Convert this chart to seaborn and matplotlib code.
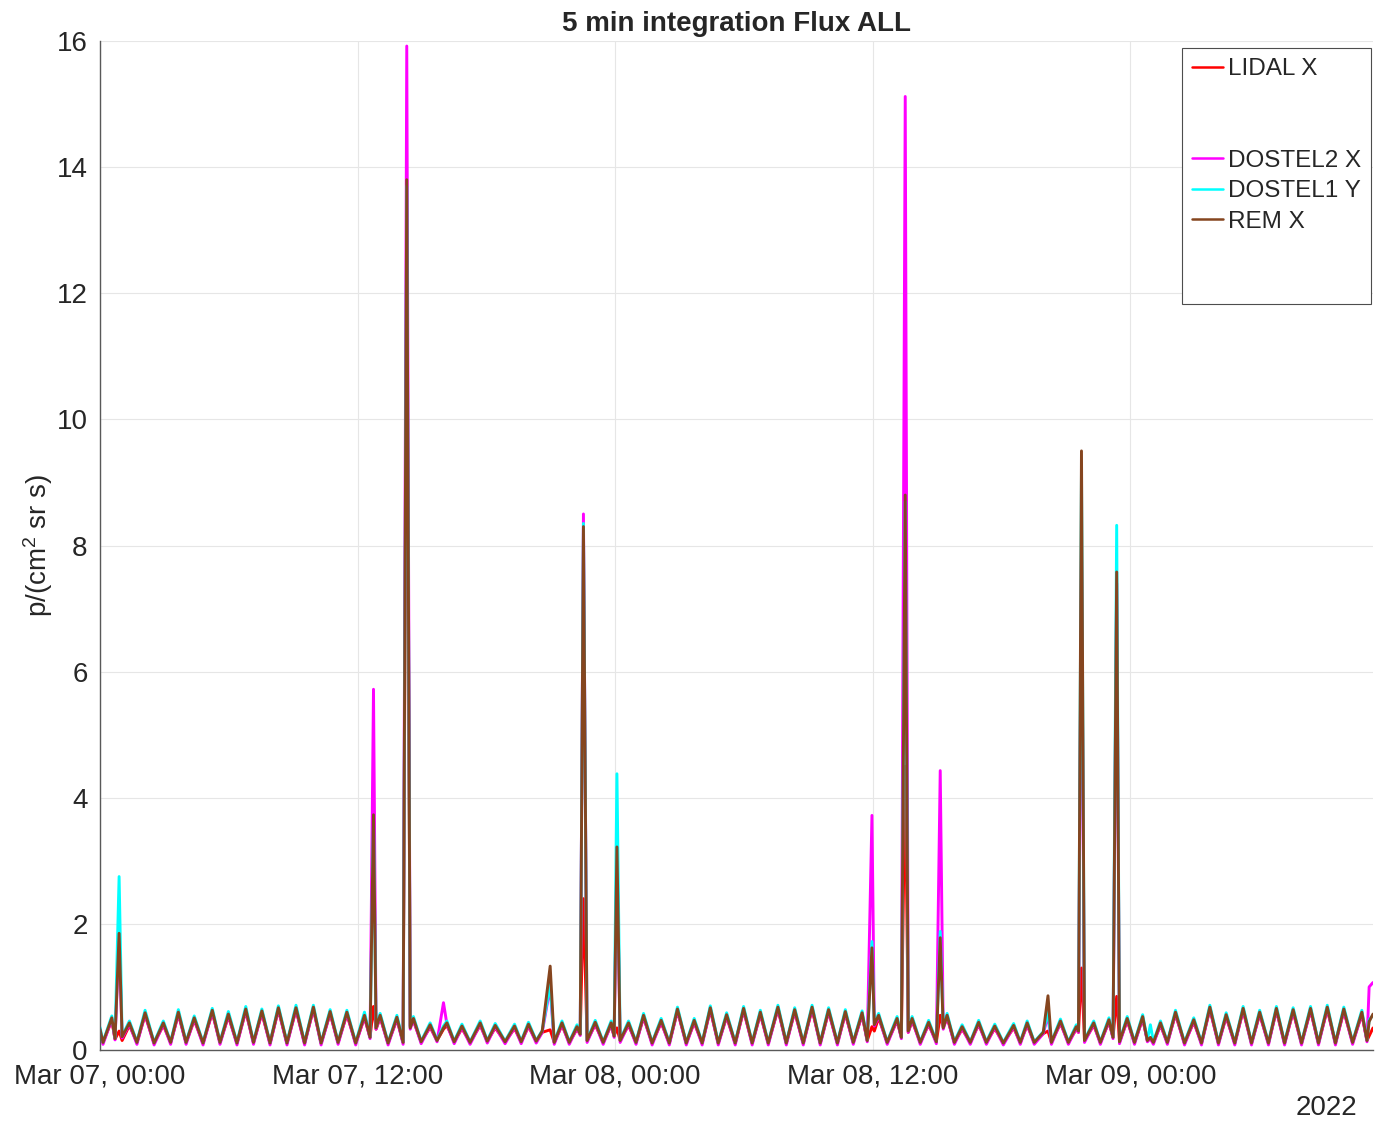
"""
5 min integration flux, four instruments, 7-9 March 2022.
"""
import matplotlib
matplotlib.use("Agg")
import matplotlib.pyplot as plt
import matplotlib.dates as mdates
from matplotlib.lines import Line2D
import pandas as pd
import seaborn as sns

START = "2022-03-07 00:00"
END_HOURS = 59.30

# hours since START
t_hours = [
    0.00, 0.14, 0.55, 0.70, 0.89, 1.03, 1.37, 1.72, 2.10, 2.52,
    2.95, 3.29, 3.65, 4.01, 4.39, 4.80, 5.23, 5.59, 5.98, 6.38,
    6.79, 7.15, 7.54, 7.92, 8.31, 8.71, 9.13, 9.53, 9.94, 10.30,
    10.72, 11.09, 11.50, 11.91, 12.32, 12.58, 12.74, 12.86, 13.05, 13.42,
    13.83, 14.12, 14.29, 14.45, 14.60, 14.96, 15.38, 15.70, 16.00, 16.16,
    16.50, 16.86, 17.24, 17.71, 18.04, 18.41, 18.87, 19.31, 19.62, 19.96,
    20.32, 20.60, 20.97, 21.16, 21.52, 21.86, 22.22, 22.37, 22.52, 22.69,
    23.07, 23.44, 23.81, 23.95, 24.08, 24.23, 24.62, 24.97, 25.32, 25.72,
    26.14, 26.52, 26.90, 27.31, 27.68, 28.05, 28.43, 28.80, 29.19, 29.59,
    29.98, 30.38, 30.76, 31.13, 31.58, 31.97, 32.36, 32.76, 33.17, 33.55,
    33.94, 34.35, 34.72, 35.09, 35.50, 35.74, 35.96, 36.07, 36.27, 36.67,
    37.13, 37.33, 37.51, 37.65, 37.83, 38.21, 38.60, 38.96, 39.14, 39.28,
    39.46, 39.80, 40.16, 40.54, 40.93, 41.29, 41.68, 42.08, 42.56, 42.87,
    43.19, 43.52, 43.94, 44.16, 44.32, 44.74, 45.11, 45.48, 45.58, 45.72,
    45.86, 46.29, 46.60, 47.00, 47.19, 47.36, 47.49, 47.85, 48.19, 48.57,
    48.79, 48.93, 49.07, 49.40, 49.72, 50.10, 50.52, 50.95, 51.31, 51.70,
    52.10, 52.46, 52.86, 53.25, 53.64, 54.02, 54.43, 54.80, 55.18, 55.58,
    55.97, 56.39, 56.76, 57.17, 57.55, 57.94, 58.35, 58.78, 59.02, 59.12,
    59.30,
]

lidal_x = [
    0.28, 0.12, 0.47, 0.17, 0.30, 0.15, 0.39, 0.12, 0.55, 0.11,
    0.39, 0.12, 0.56, 0.12, 0.47, 0.11, 0.59, 0.12, 0.53, 0.11,
    0.61, 0.12, 0.58, 0.11, 0.63, 0.11, 0.63, 0.11, 0.64, 0.11,
    0.57, 0.12, 0.56, 0.11, 0.51, 0.20, 0.69, 0.33, 0.51, 0.11,
    0.48, 0.12, 12.50, 0.38, 0.46, 0.13, 0.36, 0.15, 0.33, 0.39,
    0.13, 0.34, 0.12, 0.39, 0.14, 0.35, 0.13, 0.34, 0.13, 0.37,
    0.14, 0.28, 0.32, 0.12, 0.39, 0.12, 0.33, 0.25, 2.40, 0.15,
    0.40, 0.12, 0.39, 0.22, 0.35, 0.15, 0.39, 0.12, 0.51, 0.11,
    0.43, 0.11, 0.61, 0.11, 0.43, 0.11, 0.63, 0.11, 0.52, 0.11,
    0.62, 0.11, 0.56, 0.11, 0.64, 0.11, 0.60, 0.11, 0.64, 0.11,
    0.60, 0.11, 0.57, 0.12, 0.55, 0.15, 0.37, 0.30, 0.51, 0.12,
    0.46, 0.20, 4.50, 0.28, 0.46, 0.12, 0.40, 0.13, 0.55, 0.36,
    0.51, 0.12, 0.33, 0.12, 0.40, 0.12, 0.34, 0.11, 0.35, 0.12,
    0.39, 0.12, 0.26, 0.30, 0.12, 0.42, 0.12, 0.33, 0.28, 1.30,
    0.15, 0.39, 0.12, 0.44, 0.20, 0.85, 0.13, 0.46, 0.12, 0.49,
    0.15, 0.18, 0.12, 0.39, 0.12, 0.56, 0.11, 0.44, 0.11, 0.64,
    0.11, 0.52, 0.11, 0.62, 0.11, 0.56, 0.11, 0.62, 0.11, 0.60,
    0.11, 0.62, 0.11, 0.64, 0.11, 0.61, 0.12, 0.56, 0.15, 0.22,
    0.35,
]

dostel2_x = [
    0.30, 0.09, 0.49, 0.16, 1.80, 0.19, 0.41, 0.09, 0.57, 0.08,
    0.41, 0.09, 0.58, 0.09, 0.49, 0.08, 0.61, 0.09, 0.55, 0.08,
    0.63, 0.09, 0.60, 0.08, 0.65, 0.08, 0.65, 0.08, 0.66, 0.08,
    0.59, 0.09, 0.58, 0.08, 0.53, 0.18, 5.72, 0.33, 0.53, 0.08,
    0.50, 0.09, 15.92, 0.33, 0.48, 0.10, 0.38, 0.13, 0.75, 0.41,
    0.10, 0.36, 0.09, 0.41, 0.11, 0.37, 0.10, 0.36, 0.10, 0.39,
    0.11, 0.28, 1.00, 0.09, 0.41, 0.09, 0.35, 0.23, 8.50, 0.12,
    0.42, 0.09, 0.41, 0.20, 3.10, 0.12, 0.41, 0.09, 0.53, 0.08,
    0.45, 0.08, 0.63, 0.08, 0.45, 0.08, 0.65, 0.08, 0.54, 0.08,
    0.64, 0.08, 0.58, 0.08, 0.66, 0.08, 0.62, 0.08, 0.66, 0.08,
    0.62, 0.08, 0.59, 0.09, 0.57, 0.13, 3.72, 0.38, 0.53, 0.09,
    0.48, 0.18, 15.12, 0.28, 0.48, 0.09, 0.42, 0.10, 4.43, 0.33,
    0.53, 0.09, 0.35, 0.09, 0.42, 0.09, 0.36, 0.08, 0.37, 0.09,
    0.41, 0.09, 0.26, 0.55, 0.09, 0.44, 0.09, 0.35, 0.28, 8.00,
    0.12, 0.41, 0.09, 0.46, 0.18, 7.40, 0.10, 0.48, 0.09, 0.51,
    0.13, 0.18, 0.09, 0.41, 0.09, 0.58, 0.08, 0.46, 0.08, 0.66,
    0.08, 0.54, 0.08, 0.64, 0.08, 0.58, 0.08, 0.64, 0.08, 0.62,
    0.08, 0.64, 0.08, 0.66, 0.08, 0.63, 0.09, 0.58, 0.13, 1.00,
    1.07,
]

dostel1_y = [
    0.36, 0.13, 0.54, 0.19, 2.75, 0.22, 0.46, 0.13, 0.63, 0.12,
    0.46, 0.13, 0.64, 0.13, 0.54, 0.12, 0.66, 0.13, 0.61, 0.12,
    0.69, 0.13, 0.65, 0.12, 0.70, 0.12, 0.71, 0.12, 0.71, 0.12,
    0.64, 0.13, 0.63, 0.12, 0.60, 0.21, 3.70, 0.36, 0.58, 0.12,
    0.55, 0.13, 13.70, 0.37, 0.53, 0.14, 0.43, 0.16, 0.38, 0.46,
    0.14, 0.41, 0.13, 0.46, 0.15, 0.42, 0.14, 0.41, 0.14, 0.44,
    0.15, 0.31, 1.05, 0.13, 0.46, 0.13, 0.40, 0.26, 8.35, 0.16,
    0.47, 0.13, 0.46, 0.23, 4.38, 0.16, 0.46, 0.13, 0.58, 0.12,
    0.50, 0.12, 0.68, 0.12, 0.50, 0.12, 0.70, 0.12, 0.59, 0.12,
    0.69, 0.12, 0.63, 0.12, 0.71, 0.12, 0.67, 0.12, 0.71, 0.12,
    0.67, 0.12, 0.64, 0.13, 0.62, 0.16, 1.72, 0.42, 0.58, 0.13,
    0.53, 0.21, 8.70, 0.31, 0.53, 0.13, 0.47, 0.14, 1.88, 0.37,
    0.58, 0.13, 0.40, 0.13, 0.47, 0.13, 0.41, 0.12, 0.42, 0.13,
    0.46, 0.13, 0.29, 0.60, 0.13, 0.49, 0.13, 0.40, 0.31, 9.20,
    0.16, 0.46, 0.13, 0.51, 0.21, 8.32, 0.14, 0.53, 0.13, 0.56,
    0.16, 0.40, 0.13, 0.46, 0.13, 0.63, 0.12, 0.51, 0.12, 0.71,
    0.12, 0.59, 0.12, 0.69, 0.12, 0.63, 0.12, 0.69, 0.12, 0.67,
    0.12, 0.69, 0.12, 0.71, 0.12, 0.68, 0.13, 0.63, 0.16, 0.48,
    0.55,
]

rem_x = [
    0.33, 0.12, 0.51, 0.18, 1.85, 0.21, 0.43, 0.12, 0.59, 0.11,
    0.43, 0.12, 0.60, 0.12, 0.51, 0.11, 0.63, 0.12, 0.57, 0.11,
    0.65, 0.12, 0.62, 0.11, 0.67, 0.11, 0.67, 0.11, 0.68, 0.11,
    0.61, 0.12, 0.60, 0.11, 0.55, 0.20, 3.73, 0.35, 0.55, 0.11,
    0.52, 0.12, 13.80, 0.35, 0.50, 0.13, 0.40, 0.15, 0.35, 0.43,
    0.13, 0.38, 0.12, 0.43, 0.14, 0.39, 0.13, 0.38, 0.13, 0.41,
    0.14, 0.30, 1.33, 0.12, 0.43, 0.12, 0.37, 0.25, 8.30, 0.15,
    0.44, 0.12, 0.43, 0.22, 3.22, 0.15, 0.43, 0.12, 0.55, 0.11,
    0.47, 0.11, 0.65, 0.11, 0.47, 0.11, 0.67, 0.11, 0.56, 0.11,
    0.66, 0.11, 0.60, 0.11, 0.68, 0.11, 0.64, 0.11, 0.68, 0.11,
    0.64, 0.11, 0.61, 0.12, 0.59, 0.15, 1.62, 0.40, 0.55, 0.12,
    0.50, 0.20, 8.80, 0.30, 0.50, 0.12, 0.44, 0.13, 1.78, 0.35,
    0.55, 0.12, 0.37, 0.12, 0.44, 0.12, 0.38, 0.11, 0.39, 0.12,
    0.43, 0.12, 0.28, 0.86, 0.12, 0.46, 0.12, 0.37, 0.30, 9.50,
    0.15, 0.43, 0.12, 0.48, 0.20, 7.58, 0.13, 0.50, 0.12, 0.53,
    0.15, 0.20, 0.12, 0.43, 0.12, 0.60, 0.11, 0.48, 0.11, 0.68,
    0.11, 0.56, 0.11, 0.66, 0.11, 0.60, 0.11, 0.66, 0.11, 0.64,
    0.11, 0.66, 0.11, 0.68, 0.11, 0.65, 0.12, 0.60, 0.15, 0.45,
    0.57,
]

series_names = ["LIDAL X", "DOSTEL2 X", "DOSTEL1 Y", "REM X"]
series_colors = ["#ff0000", "#ff00ff", "#00ffff", "#85451f"]

sns.set_style("white")
plt.rcParams["font.family"] = ["Liberation Sans", "DejaVu Sans"]
plt.rcParams["mathtext.fontset"] = "custom"
plt.rcParams["mathtext.rm"] = "Liberation Sans"
plt.rcParams["mathtext.it"] = "Liberation Sans:italic"

times = pd.Timestamp(START) + pd.to_timedelta(t_hours, unit="h")

fig = plt.figure(figsize=(13.75, 11.25), dpi=100)
ax = fig.add_axes([100 / 1375, 75 / 1125, 1273 / 1375, 1009 / 1125])

for name, vals, col in zip(series_names, [lidal_x, dostel2_x, dostel1_y, rem_x], series_colors):
    assert len(vals) == len(t_hours), name
    sns.lineplot(x=times, y=vals, ax=ax, color=col, linewidth=2.1, legend=False)

ax.set_xlim(pd.Timestamp(START), pd.Timestamp(START) + pd.Timedelta(hours=END_HOURS))
ax.set_ylim(0, 16)
ax.set_yticks(range(0, 17, 2))
ax.set_xticks(pd.date_range(START, periods=5, freq="12h"))
ax.xaxis.set_major_formatter(mdates.DateFormatter("%b %d, %H:%M"))

ax.grid(True, color="0.9", linewidth=0.8)
for side in ["top", "right"]:
    ax.spines[side].set_visible(False)
for side in ["left", "bottom"]:
    ax.spines[side].set_color("0.35")
    ax.spines[side].set_linewidth(1.0)
ax.tick_params(direction="in", length=7, color="0.35", labelsize=20, pad=9)
ax.tick_params(axis="x", pad=10)

ax.set_xlabel("")
ax.set_ylabel("p/(cm$^2$ sr s)", fontsize=20, labelpad=1)
ax.set_title("5 min integration Flux ALL", fontsize=20, fontweight="bold", pad=7)
ax.annotate("2022", xy=(1, 0), xycoords="axes fraction", xytext=(-11.5, -42),
            textcoords="offset points", ha="right", va="center", fontsize=20)

# legend with blank slots like the original
blank = Line2D([], [], color="none")
handles = [Line2D([], [], color=series_colors[0], lw=1.8), blank, blank]
handles += [Line2D([], [], color=c, lw=1.8) for c in series_colors[1:]]
handles += [blank, blank]
labels = ["LIDAL X", " ", " ", "DOSTEL2 X", "DOSTEL1 Y", "REM X", " ", " "]
leg = ax.legend(handles, labels, loc="upper right", bbox_to_anchor=(0.9984, 0.993),
                borderaxespad=0, fontsize=17.5, handlelength=1.25, handletextpad=0.2,
                labelspacing=0.35, borderpad=0.42, fancybox=False, framealpha=1,
                edgecolor="0.3")
leg.get_frame().set_linewidth(0.8)

fig.savefig("out.png", dpi=100)
plt.close(fig)
